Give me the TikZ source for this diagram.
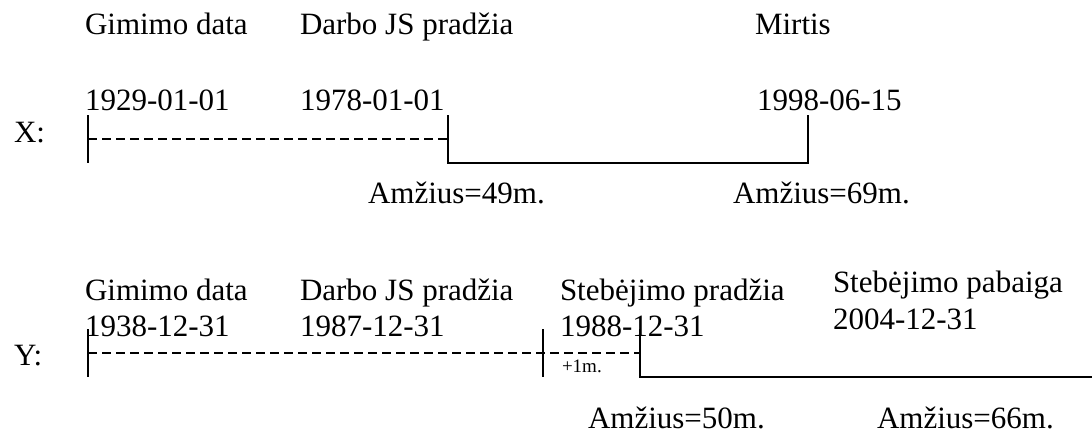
\documentclass[tikz,border=0pt]{standalone}
\usepackage{fontspec}
\setmainfont{Liberation Serif}
\begin{document}
\begin{tikzpicture}[x=1pt,y=-1pt,
  lbl/.style={anchor=base west,inner sep=0pt,outer sep=0pt,font=\fontsize{31}{36}\selectfont},
  small/.style={anchor=base west,inner sep=0pt,outer sep=0pt,font=\fontsize{19}{22}\selectfont},
  tick/.style={line width=2pt},
  solidline/.style={line width=2pt},
  dashline/.style={line width=2pt,dash pattern=on 9pt off 5pt}]
\useasboundingbox (0,0) rectangle (1092,434);

% --- X row ---
\node[lbl] (xlab)  at (14,142)  {X:};
\node[lbl] (xg)    at (85,34)   {Gimimo data};
\node[lbl] (xd)    at (300,34)  {Darbo JS pradžia};
\node[lbl] (xm)    at (755,34)  {Mirtis};
\node[lbl] (xgd)   at (85,110)  {1929-01-01};
\node[lbl] (xdd)   at (300,110) {1978-01-01};
\node[lbl] (xmd)   at (757,110) {1998-06-15};
\node[lbl] (xa1)   at (368,203) {Amžius=49m.};
\node[lbl] (xa2)   at (733,203) {Amžius=69m.};

\coordinate (xt1) at (88,115);
\coordinate (xt2) at (88,163);
\coordinate (xds) at (88,139);
\coordinate (xde) at (448,139);
\coordinate (xs1) at (448,115);
\coordinate (xs2) at (448,163);
\coordinate (xs3) at (808,163);
\coordinate (xs4) at (808,115);

\draw[tick] (xt1) -- (xt2);
\draw[dashline] (xds) -- (xde);
\draw[solidline] (xs1) -- (xs2) -- (xs3) -- (xs4);

% --- Y row ---
\node[lbl] (ylab)  at (14,365)  {Y:};
\node[lbl] (yg)    at (85,300)  {Gimimo data};
\node[lbl] (yd)    at (300,300) {Darbo JS pradžia};
\node[lbl] (ys)    at (560,300) {Stebėjimo pradžia};
\node[lbl] (ye)    at (833,292) {Stebėjimo pabaiga};
\node[lbl] (ygd)   at (85,336)  {1938-12-31};
\node[lbl] (ydd)   at (300,336) {1987-12-31};
\node[lbl] (ysd)   at (560,336) {1988-12-31};
\node[lbl] (yed)   at (833,329) {2004-12-31};
\node[small] (yp)  at (562,372) {+1m.};
\node[lbl] (ya1)   at (588,428) {Amžius=50m.};
\node[lbl] (ya2)   at (877,428) {Amžius=66m.};

\coordinate (yt1) at (88,329);
\coordinate (yt2) at (88,377);
\coordinate (yu1) at (543,329);
\coordinate (yu2) at (543,377);
\coordinate (yds) at (88,353);
\coordinate (yde) at (640,353);
\coordinate (ys1) at (640,329);
\coordinate (ys2) at (640,377);
\coordinate (ys3) at (1092,377);

\draw[tick] (yt1) -- (yt2);
\draw[tick] (yu1) -- (yu2);
\draw[dashline] (yds) -- (yde);
\draw[solidline] (ys1) -- (ys2) -- (ys3);
\end{tikzpicture}
\end{document}
